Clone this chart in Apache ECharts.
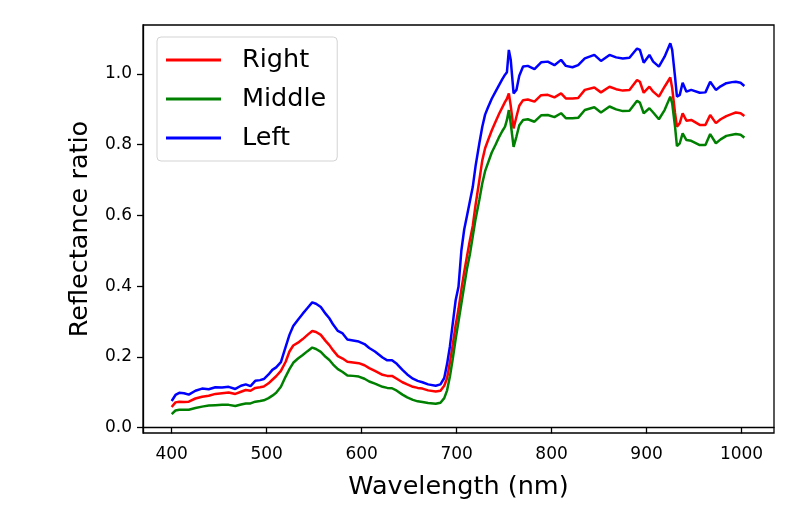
<!DOCTYPE html>
<html>
<head>
<meta charset="utf-8">
<script src="https://cdn.jsdelivr.net/npm/echarts@6/dist/echarts.min.js"></script>
<style>
html,body{margin:0;padding:0;background:#fff;}
#chart{width:797px;height:516px;}
</style>
</head>
<body>
<div id="chart"></div>
<script>
var seriesNames = ["Right", "Middle", "Left"];
var seriesColors = ["#ff0000", "#008000", "#0000ff"];
var xTicks = [400, 500, 600, 700, 800, 900, 1000];
var yTicks = [0.0, 0.2, 0.4, 0.6, 0.8, 1.0];

var wavelengths = [400,404,408,413,418,425,432,439,446,453,460,467,473,478,483,488,493,497,502,506,510,515,520,524,528,533,538,543,548,552,557,562,566,570,575,580,585,591,597,603,608,614,622,627,632,637,643,648,654,659,664,670,678,683,687,690,693,696,699,702,705,708,711,714,717,720,724,727,730,733,737,741,745,748,751,753,755,757,760,763,766,770,775,782,789,796,803,810,815,822,828,835,845,852,861,868,875,882,890,893,897,903,907,913,919,925,927,930,932,935,938,942,947,956,962,967,973,978,984,990,994,999,1003];

var rightValues = [0.058,0.071,0.073,0.072,0.073,0.082,0.087,0.090,0.095,0.097,0.099,0.095,0.101,0.106,0.104,0.112,0.114,0.116,0.125,0.135,0.145,0.160,0.186,0.215,0.232,0.240,0.250,0.262,0.273,0.270,0.262,0.245,0.233,0.218,0.202,0.195,0.186,0.184,0.182,0.176,0.168,0.160,0.149,0.146,0.146,0.138,0.128,0.122,0.115,0.112,0.110,0.105,0.102,0.104,0.118,0.140,0.185,0.235,0.290,0.335,0.390,0.440,0.485,0.530,0.570,0.630,0.700,0.755,0.790,0.812,0.840,0.865,0.889,0.905,0.921,0.930,0.945,0.910,0.846,0.879,0.910,0.926,0.928,0.922,0.940,0.941,0.934,0.945,0.931,0.931,0.932,0.955,0.962,0.948,0.964,0.957,0.953,0.955,0.983,0.978,0.947,0.964,0.950,0.936,0.964,0.990,0.960,0.890,0.851,0.861,0.889,0.868,0.870,0.856,0.856,0.884,0.861,0.872,0.881,0.887,0.891,0.889,0.881];

var middleValues = [0.038,0.048,0.050,0.050,0.050,0.055,0.059,0.062,0.063,0.064,0.064,0.061,0.065,0.068,0.068,0.073,0.075,0.077,0.083,0.090,0.098,0.115,0.144,0.165,0.183,0.195,0.205,0.216,0.226,0.222,0.214,0.200,0.191,0.178,0.165,0.157,0.147,0.146,0.144,0.138,0.130,0.124,0.115,0.112,0.111,0.104,0.093,0.085,0.078,0.074,0.072,0.069,0.067,0.070,0.083,0.105,0.145,0.195,0.250,0.300,0.350,0.400,0.450,0.490,0.540,0.590,0.645,0.690,0.725,0.748,0.778,0.800,0.823,0.838,0.851,0.870,0.898,0.860,0.794,0.823,0.855,0.870,0.872,0.865,0.883,0.884,0.878,0.889,0.875,0.875,0.876,0.898,0.906,0.891,0.908,0.900,0.895,0.896,0.924,0.919,0.889,0.903,0.891,0.872,0.898,0.936,0.917,0.851,0.796,0.804,0.832,0.813,0.811,0.799,0.799,0.830,0.804,0.815,0.825,0.828,0.830,0.828,0.820];

var leftValues = [0.075,0.092,0.098,0.097,0.093,0.104,0.110,0.108,0.114,0.113,0.115,0.109,0.118,0.122,0.117,0.132,0.134,0.137,0.150,0.163,0.170,0.185,0.228,0.262,0.287,0.305,0.322,0.338,0.354,0.350,0.341,0.322,0.309,0.291,0.273,0.266,0.249,0.246,0.243,0.236,0.225,0.215,0.198,0.190,0.190,0.180,0.163,0.150,0.138,0.132,0.128,0.122,0.118,0.122,0.140,0.180,0.230,0.295,0.360,0.398,0.500,0.560,0.600,0.640,0.680,0.740,0.805,0.850,0.885,0.905,0.930,0.950,0.970,0.985,0.998,1.005,1.068,1.040,0.945,0.955,0.995,1.021,1.023,1.014,1.033,1.035,1.025,1.040,1.023,1.019,1.025,1.044,1.054,1.037,1.054,1.047,1.044,1.046,1.072,1.068,1.032,1.054,1.035,1.021,1.049,1.087,1.068,0.992,0.936,0.941,0.975,0.950,0.955,0.947,0.948,0.978,0.955,0.965,0.974,0.977,0.978,0.975,0.966];

var allValues = [rightValues, middleValues, leftValues];

function pairs(vals) {
  return wavelengths.map(function (w, i) { return [w, vals[i]]; });
}

var FONT = "DejaVu Sans";
var chart = echarts.init(document.getElementById("chart"), null, {renderer: "canvas"});

var series = seriesNames.map(function (name, k) {
  return {
    name: name,
    type: "line",
    data: pairs(allValues[k]),
    showSymbol: false,
    symbol: "none",
    smooth: false,
    lineStyle: {color: seriesColors[k], width: 2.5},
    itemStyle: {color: seriesColors[k]},
    animation: false,
    z: 2 + k
  };
});

chart.setOption({
  animation: false,
  backgroundColor: "#ffffff",
  grid: {
    left: 143, right: 23, top: 25, bottom: 83,
    show: true, borderColor: "#000000", borderWidth: 1.3, backgroundColor: "transparent"
  },
  legend: {
    data: seriesNames,
    left: 157, top: 37,
    orient: "vertical",
    icon: "rect",
    itemWidth: 55, itemHeight: 3,
    itemGap: 13,
    padding: [10, 11, 10, 9],
    backgroundColor: "rgba(255,255,255,0.8)",
    borderColor: "#d3d3d3", borderWidth: 1, borderRadius: 4,
    textStyle: {fontFamily: FONT, fontSize: 25.5, color: "#000", lineHeight: 26, padding: [0, 0, 0, 16]}
  },
  xAxis: {
    type: "value",
    min: 369.8, max: 1034.2,
    name: "Wavelength (nm)",
    nameLocation: "middle",
    nameGap: 41,
    nameTextStyle: {fontFamily: FONT, fontSize: 25.5, color: "#000"},
    axisLine: {show: true, lineStyle: {color: "#000", width: 1.3}},
    axisTick: {show: true, length: 6, lineStyle: {color: "#000", width: 1.3}, customValues: xTicks},
    axisLabel: {fontFamily: FONT, fontSize: 17, color: "#000", margin: 13, customValues: xTicks,
      formatter: function (v) { return String(v); }},
    splitLine: {show: false}
  },
  yAxis: {
    type: "value",
    min: -0.0156, max: 1.1386,
    name: "Reflectance ratio",
    nameLocation: "middle",
    nameGap: 50,
    nameTextStyle: {fontFamily: FONT, fontSize: 25.5, color: "#000"},
    axisLine: {show: true, lineStyle: {color: "#000", width: 1.3}},
    axisTick: {show: true, length: 6, lineStyle: {color: "#000", width: 1.3}, customValues: yTicks},
    axisLabel: {fontFamily: FONT, fontSize: 17, color: "#000", margin: 11, customValues: yTicks,
      formatter: function (v) { return v.toFixed(1); }},
    splitLine: {show: false}
  },
  series: series
});
</script>
</body>
</html>
